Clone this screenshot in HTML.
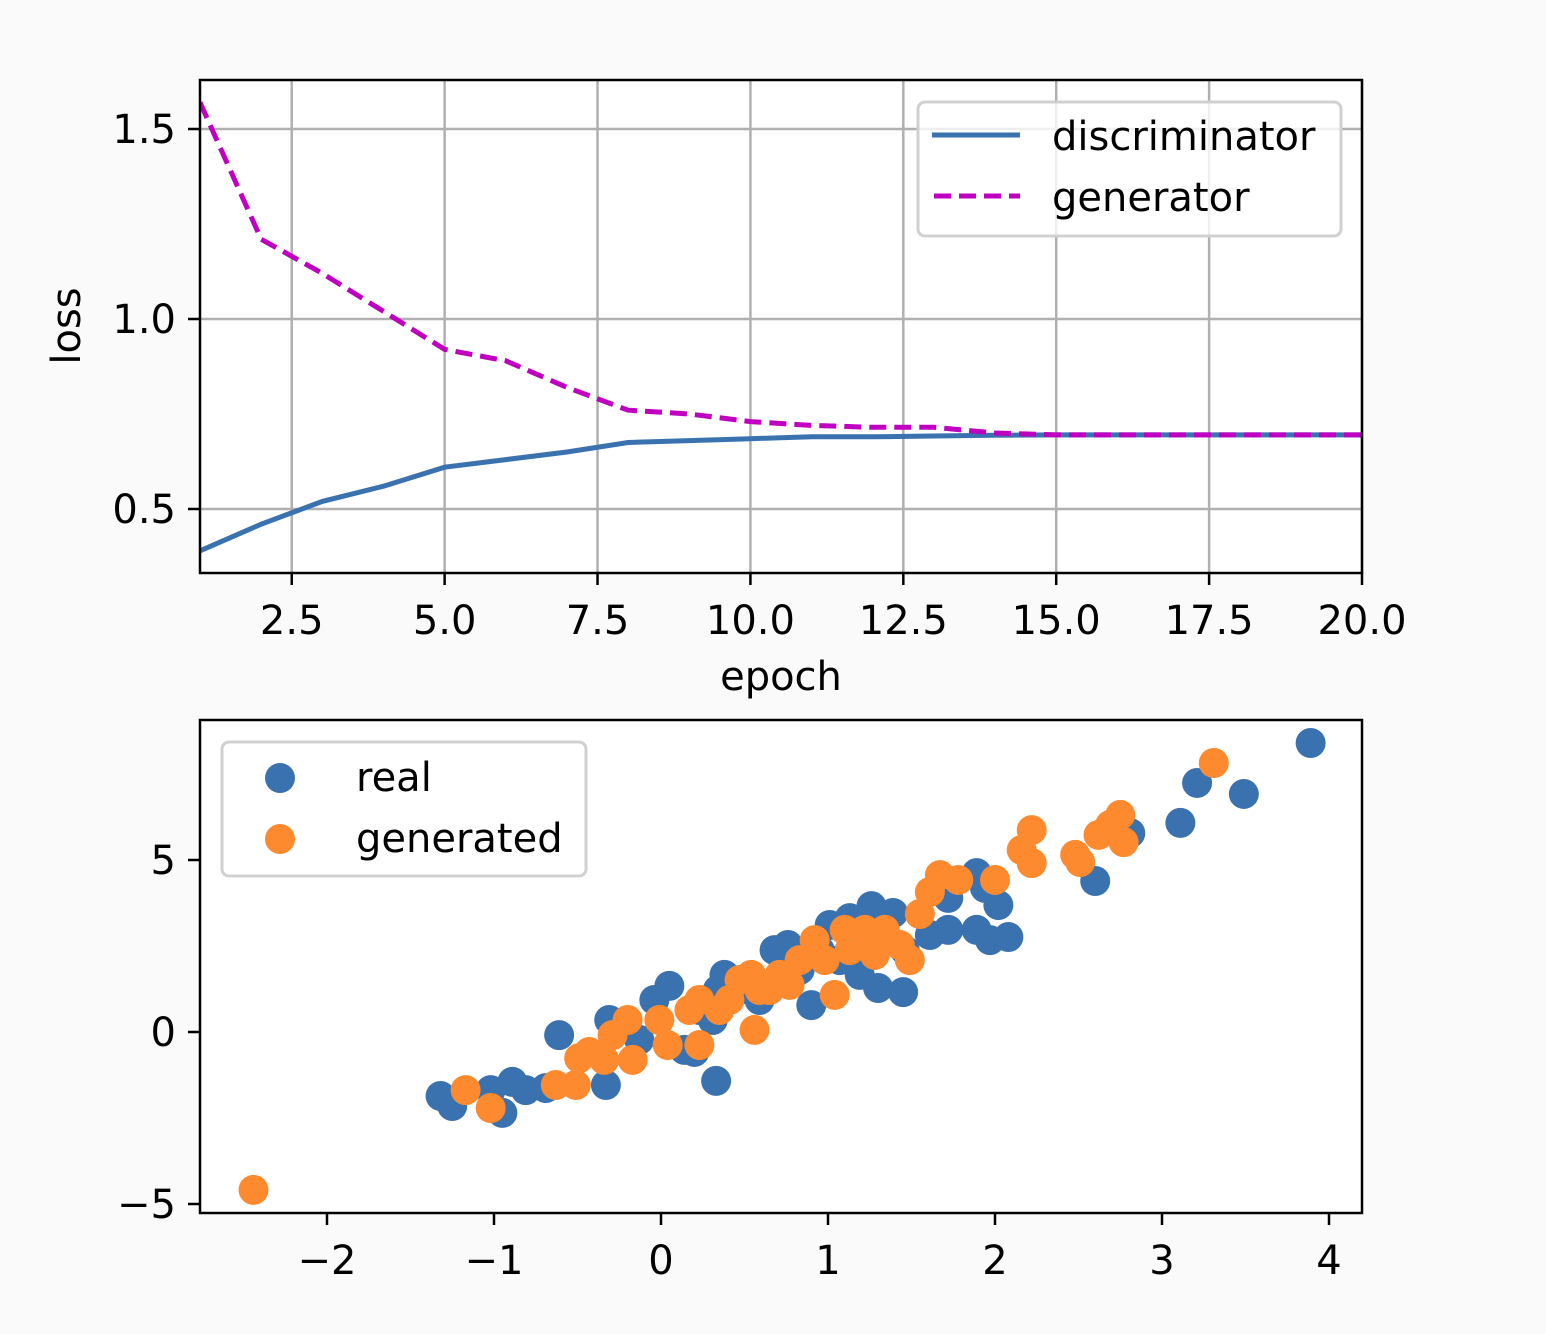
<!DOCTYPE html>
<html><head><meta charset="utf-8"><style>
html,body{margin:0;padding:0;background:#fafafa;}
svg{display:block;font-family:"DejaVu Sans","Liberation Sans",sans-serif;}
</style></head><body>
<svg id="c" width="1546" height="1334" viewBox="0 0 1546 1334" xmlns="http://www.w3.org/2000/svg"></svg>
<script>
const epochs=[1,2,3,4,5,6,7,8,9,10,11,12,13,14,15,16,17,18,19,20];
const discLoss=[0.39,0.46,0.52,0.56,0.61,0.63,0.65,0.675,0.68,0.685,0.69,0.69,0.692,0.694,0.695,0.695,0.695,0.695,0.695,0.695];
const genLoss=[1.57,1.21,1.12,1.02,0.92,0.89,0.82,0.76,0.75,0.73,0.72,0.715,0.715,0.70,0.695,0.695,0.695,0.695,0.695,0.695];
const lossXTicks=[2.5,5.0,7.5,10.0,12.5,15.0,17.5,20.0];
const lossYTicks=[0.5,1.0,1.5];
const realX=[-1.32,-1.25,-1.02,-0.95,-0.89,-0.81,-0.69,-0.61,-0.33,-0.31,-0.13,-0.04,0.05,0.14,0.20,0.33,0.31,0.38,0.34,0.68,0.76,0.90,1.01,1.13,1.26,1.39,1.30,1.45,1.19,1.61,1.72,1.72,1.89,1.94,2.02,1.89,1.97,2.08,2.60,2.81,3.11,3.21,3.49,3.89,0.83,0.59,0.47,0.23,0.95,1.07,1.31,1.46];
const realY=[-1.86,-2.15,-1.69,-2.35,-1.45,-1.69,-1.63,-0.09,-1.54,0.35,-0.23,0.93,1.34,-0.52,-0.58,-1.42,0.35,1.66,1.22,2.38,2.53,0.78,3.11,3.31,3.66,3.46,1.28,1.16,1.66,2.82,2.97,3.90,4.62,4.19,3.69,2.97,2.67,2.76,4.39,5.78,6.08,7.24,6.92,8.40,1.80,0.93,1.22,0.64,2.38,2.09,2.67,2.38];
const genX=[-2.44,-1.17,-1.02,-0.63,-0.51,-0.49,-0.43,-0.34,-0.29,-0.20,-0.17,-0.01,0.04,0.23,0.17,0.23,0.35,0.47,0.54,0.56,0.65,0.77,0.83,0.92,0.98,1.04,1.13,1.22,1.28,1.34,1.43,1.49,1.55,1.61,1.67,1.78,2.00,2.16,2.22,2.22,2.48,2.51,2.62,2.69,2.75,2.77,3.31,0.41,0.59,0.71,1.10,1.25];
const genY=[-4.59,-1.69,-2.21,-1.54,-1.54,-0.76,-0.58,-0.81,-0.09,0.35,-0.81,0.35,-0.38,-0.38,0.64,0.93,0.64,1.51,1.66,0.06,1.22,1.37,2.09,2.67,2.09,1.08,2.38,2.97,2.24,2.97,2.53,2.09,3.43,4.07,4.56,4.42,4.42,5.29,5.87,4.91,5.15,4.94,5.73,6.02,6.31,5.52,7.82,0.93,1.22,1.66,2.97,2.53];
const scXTicks=[-2,-1,0,1,2,3,4];
const scYTicks=[-5,0,5];

const NS="http://www.w3.org/2000/svg";
const svg=document.getElementById('c');
const FS=40;
function mk(tag,attrs,parent,name,text){const e=document.createElementNS(NS,tag);for(const k in attrs)e.setAttribute(k,attrs[k]);


if(text!==undefined)e.textContent=text;(parent||svg).appendChild(e);return e;}

const T={l:200,r:1362,t:80,b:573};
const tx=v=>T.l+(v-1)*(T.r-T.l)/19;
const ty=v=>509-(v-0.5)*380;
mk('rect',{x:T.l,y:T.t,width:T.r-T.l,height:T.b-T.t,fill:'#fff'},svg,'loss-plot-area');
lossXTicks.forEach(v=>{const x=tx(v);
mk('line',{x1:x,x2:x,y1:T.t,y2:T.b,stroke:'#b0b0b0','stroke-width':2.5},svg,'x-gridline');
mk('line',{x1:x,x2:x,y1:T.b,y2:T.b+12,stroke:'#000','stroke-width':2.5},svg,'x-tick');
mk('text',{x:x,y:T.b+61,'font-size':FS,'text-anchor':'middle'},svg,'x-tick-label',v.toFixed(1));});
lossYTicks.forEach(v=>{const y=ty(v);
mk('line',{x1:T.l,x2:T.r,y1:y,y2:y,stroke:'#b0b0b0','stroke-width':2.5},svg,'y-gridline');
mk('line',{x1:T.l-12,x2:T.l,y1:y,y2:y,stroke:'#000','stroke-width':2.5},svg,'y-tick');
mk('text',{x:T.l-24,y:y+14,'font-size':FS,'text-anchor':'end'},svg,'y-tick-label',v.toFixed(1));});
const cp=mk('clipPath',{id:'tc'},svg,'loss-clip');mk('rect',{x:T.l,y:T.t,width:T.r-T.l,height:T.b-T.t},cp,'clip-rect');
mk('polyline',{points:epochs.map((e,i)=>tx(e)+','+ty(discLoss[i])).join(' '),fill:'none',stroke:'#3a72b0','stroke-width':5,'clip-path':'url(#tc)'},svg,'discriminator-line');
mk('polyline',{points:epochs.map((e,i)=>tx(e)+','+ty(genLoss[i])).join(' '),fill:'none',stroke:'#c000c0','stroke-width':5,'stroke-dasharray':'17,8','clip-path':'url(#tc)'},svg,'generator-line');
mk('rect',{x:T.l,y:T.t,width:T.r-T.l,height:T.b-T.t,fill:'none',stroke:'#000','stroke-width':2.5},svg,'loss-axes-frame');
mk('text',{x:781,y:690,'font-size':FS,'text-anchor':'middle'},svg,'x-axis-title','epoch');
mk('text',{x:0,y:0,'font-size':FS,'text-anchor':'middle',transform:'translate(80,326) rotate(-90)'},svg,'y-axis-title','loss');
const lg=mk('g',{},svg,'loss-legend');
mk('rect',{x:918,y:102,width:423,height:134,rx:7,fill:'rgba(255,255,255,0.8)',stroke:'#d0d0d0','stroke-width':3},lg,'legend-box');
mk('line',{x1:932,x2:1020,y1:135,y2:135,stroke:'#3a72b0','stroke-width':5},lg,'legend-discriminator-swatch');
mk('text',{x:1052,y:150,'font-size':FS},lg,'legend-discriminator-label','discriminator');
mk('line',{x1:934,x2:1020,y1:196,y2:196,stroke:'#c000c0','stroke-width':5,'stroke-dasharray':'17,8'},lg,'legend-generator-swatch');
mk('text',{x:1052,y:211,'font-size':FS},lg,'legend-generator-label','generator');

const B={l:200,r:1362,t:720,b:1213};
const sx=v=>661+v*167;
const sy=v=>1032-v*34.4;
mk('rect',{x:B.l,y:B.t,width:B.r-B.l,height:B.b-B.t,fill:'#fff'},svg,'scatter-plot-area');
scXTicks.forEach(v=>{const x=sx(v);
mk('line',{x1:x,x2:x,y1:B.b,y2:B.b+12,stroke:'#000','stroke-width':2.5},svg,'x-tick');
mk('text',{x:x,y:B.b+61,'font-size':FS,'text-anchor':'middle'},svg,'x-tick-label',v<0?'\u2212'+Math.abs(v):String(v));});
scYTicks.forEach(v=>{const y=sy(v);
mk('line',{x1:B.l-12,x2:B.l,y1:y,y2:y,stroke:'#000','stroke-width':2.5},svg,'y-tick');
mk('text',{x:B.l-24,y:y+14,'font-size':FS,'text-anchor':'end'},svg,'y-tick-label',v<0?'\u2212'+Math.abs(v):String(v));});
realX.forEach((v,i)=>mk('circle',{cx:sx(v),cy:sy(realY[i]),r:15,fill:'#3a72b0'},svg,'real-point'));
genX.forEach((v,i)=>mk('circle',{cx:sx(v),cy:sy(genY[i]),r:15,fill:'#fd8a2e'},svg,'generated-point'));
mk('rect',{x:B.l,y:B.t,width:B.r-B.l,height:B.b-B.t,fill:'none',stroke:'#000','stroke-width':2.5},svg,'scatter-axes-frame');
const lg2=mk('g',{},svg,'scatter-legend');
mk('rect',{x:222,y:742,width:364,height:134,rx:7,fill:'rgba(255,255,255,0.8)',stroke:'#d0d0d0','stroke-width':3},lg2,'legend-box');
mk('circle',{cx:280,cy:778,r:15,fill:'#3a72b0'},lg2,'legend-real-marker');
mk('text',{x:356,y:791,'font-size':FS},lg2,'legend-real-label','real');
mk('circle',{cx:280,cy:839,r:15,fill:'#fd8a2e'},lg2,'legend-generated-marker');
mk('text',{x:356,y:852,'font-size':FS},lg2,'legend-generated-label','generated');
</script>
</body></html>
